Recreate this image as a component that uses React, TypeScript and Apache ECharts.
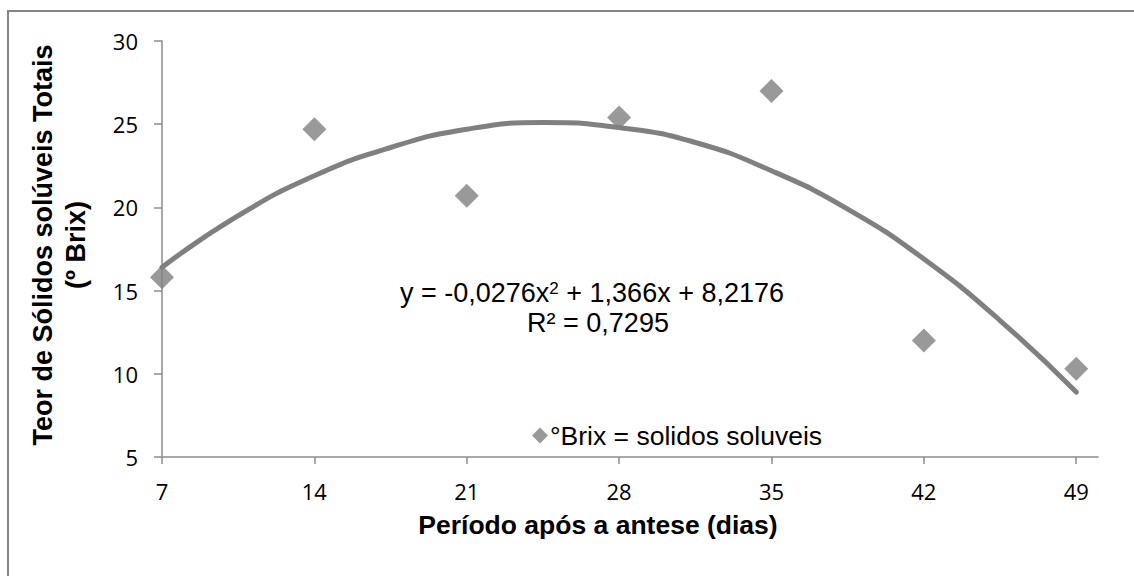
import React, { useEffect, useRef } from "react";
import * as echarts from "echarts";

const xTicks = [7, 14, 21, 28, 35, 42, 49];
const brixDays = [7, 14, 21, 28, 35, 42, 49];
const brixValues = [15.8, 24.7, 20.7, 25.4, 27.0, 12.0, 10.3];
// trend line (polynomial trendline of order 2)
const trendDays = [7, 10.5, 14, 17.5, 21, 24.5, 28, 31.5, 35, 38.5, 42, 45.5, 49];
const trendValues = [16.4, 19.5, 21.9, 23.6, 24.7, 25.1, 24.8, 23.9, 22.2, 19.9, 16.9, 13.2, 8.9];
const seriesName = "°Brix = solidos soluveis";
const xTitle = "Período após a antese (dias)";
const yTitle1 = "Teor de Sólidos solúveis Totais";
const yTitle2 = "(º Brix)";

export default function App() {
  const ref = useRef<HTMLDivElement>(null);
  useEffect(() => {
    if (!ref.current) return;
    const chart = echarts.init(ref.current, undefined, { renderer: "svg" });
    const axisColor = "#8c8c8c";
    const labelFont = "'Open Sans', sans-serif";
    const arial = "'Liberation Sans', Arial, sans-serif";
    chart.setOption({
      animation: false,
      backgroundColor: "#ffffff",
      grid: { left: 162, right: 36, top: 41, bottom: 119 },
      xAxis: {
        type: "value",
        min: 7,
        max: 50,
        interval: 7,
        splitLine: { show: false },
        axisLine: { show: true, onZero: false, lineStyle: { color: axisColor, width: 1.5 } },
        axisTick: { show: true, length: 7, lineStyle: { color: axisColor, width: 1.5 }, customValues: xTicks },
        axisLabel: { color: "#000", fontSize: 22, fontFamily: labelFont, margin: 23, customValues: xTicks },
      },
      yAxis: {
        type: "value",
        min: 5,
        max: 30,
        interval: 5,
        splitLine: { show: false },
        axisLine: { show: true, onZero: false, lineStyle: { color: axisColor, width: 1.5 } },
        axisTick: { show: true, length: 8, lineStyle: { color: axisColor, width: 1.5 } },
        axisLabel: { color: "#000", fontSize: 22, fontFamily: labelFont, margin: 24 },
      },
      legend: {
        show: true,
        data: [{ name: seriesName, icon: "diamond" }],
        left: 527,
        top: 417,
        itemWidth: 16,
        itemHeight: 16,
        itemGap: 5,
        textStyle: { color: "#000", fontSize: 26.5, fontFamily: arial, padding: [0, 0, 0, -3] },
      },
      series: [
        {
          name: "trend",
          type: "line",
          data: trendDays.map((d, i) => [d, trendValues[i]]),
          smooth: true,
          showSymbol: false,
          symbol: "none",
          lineStyle: { color: "#808080", width: 5, cap: "round" },
          z: 1,
        },
        {
          name: seriesName,
          type: "scatter",
          data: brixDays.map((d, i) => [d, brixValues[i]]),
          symbol: "diamond",
          symbolSize: 24,
          itemStyle: { color: "#7f7f7f" },
          z: 3,
        },
      ],
      graphic: [
        {
          type: "rect",
          shape: { x: 8, y: 11, width: 1300, height: 800 },
          style: { fill: "none", stroke: "#868686", lineWidth: 2 },
          silent: true,
        },
        {
          type: "text",
          x: 598,
          y: 525,
          style: {
            text: xTitle,
            fill: "#000",
            font: `bold 26.5px ${arial}`,
            textAlign: "center",
            textVerticalAlign: "middle",
          },
        },
        {
          type: "text",
          x: 43,
          y: 245,
          rotation: Math.PI / 2,
          style: {
            text: yTitle1,
            fill: "#000",
            font: `bold 27px ${arial}`,
            textAlign: "center",
            textVerticalAlign: "middle",
          },
        },
        {
          type: "text",
          x: 76,
          y: 245,
          rotation: Math.PI / 2,
          style: {
            text: yTitle2,
            fill: "#000",
            font: `bold 27px ${arial}`,
            textAlign: "center",
            textVerticalAlign: "middle",
          },
        },
        {
          type: "text",
          x: 592,
          y: 293,
          style: {
            text: "{n|y = -0,0276x}{s|2}{n| + 1,366x + 8,2176}",
            textAlign: "center",
            textVerticalAlign: "middle",
            rich: {
              n: { fontSize: 27, fontFamily: arial, fill: "#000", color: "#000" },
              s: { fontSize: 17, fontFamily: arial, fill: "#000", color: "#000", verticalAlign: "top", padding: [0, 0, 10, 0] },
            },
          },
        },
        {
          type: "text",
          x: 598,
          y: 323,
          style: {
            text: "R² = 0,7295",
            fill: "#000",
            font: `27px ${arial}`,
            textAlign: "center",
            textVerticalAlign: "middle",
          },
        },
      ],
    });
    return () => chart.dispose();
  }, []);
  return (
    <div
      ref={ref}
      style={{ position: "fixed", left: 0, top: 0, width: 1134, height: 576, background: "#fff" }}
    />
  );
}
